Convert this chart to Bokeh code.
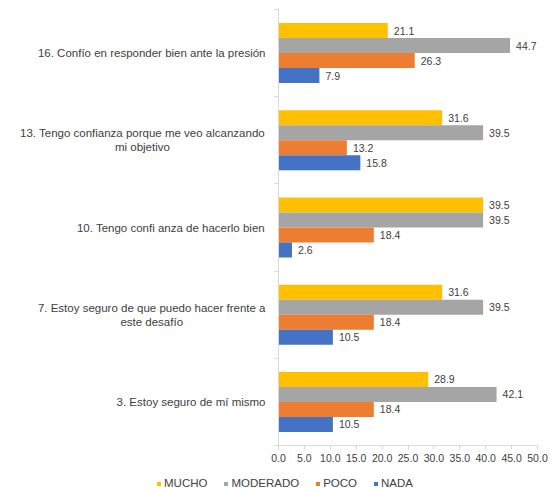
import numpy as np
from bokeh.plotting import figure
from bokeh.layouts import row, column
from bokeh.models import (ColumnDataSource, FixedTicker, NumeralTickFormatter, Legend,
                          LegendItem, Range1d)
from bokeh.transform import dodge
from bokeh.embed import file_html
from bokeh.resources import INLINE

categories = [
    "3. Estoy seguro de mí mismo",
    "7. Estoy seguro de que puedo hacer frente a\neste desafío",
    "10. Tengo confi anza de hacerlo bien",
    "13. Tengo confianza porque me veo alcanzando\nmi objetivo",
    "16. Confío en responder bien ante la presión",
]
series_names = ["MUCHO", "MODERADO", "POCO", "NADA"]
mucho = [28.9, 31.6, 39.5, 31.6, 21.1]
moderado = [42.1, 39.5, 39.5, 39.5, 44.7]
poco = [18.4, 18.4, 18.4, 13.2, 26.3]
nada = [10.5, 10.5, 2.6, 15.8, 7.9]
x_ticks = [0, 5, 10, 15, 20, 25, 30, 35, 40, 45, 50]

colors = ["#FFC000", "#A5A5A5", "#ED7D31", "#4472C4"]
FONT = "Liberation Sans"
TXT = "#404040"
CAT_FS = 11.5

# Liberation Sans (Arial-metric) advance widths, per 1000 em, used to centre wrapped lines
_W = dict(a=556, b=556, c=500, d=556, e=556, f=278, g=556, h=556, i=222, j=222, k=500,
          l=222, m=833, n=556, o=556, p=556, q=556, r=333, s=500, t=278, u=556, v=500,
          w=722, x=500, y=500, z=500, C=722, E=667, T=611)
_W.update({".": 278, " ": 278, "í": 278, "ó": 556})
for dch in "0123456789":
    _W[dch] = 556


def text_width(s, fs):
    return max(sum(_W.get(ch, 556) for ch in line) for line in s.split("\n")) / 1000 * fs


n = len(categories)
ypos = np.arange(n) + 0.5

FRAME_H = 436
TOP = 9
BOTTOM = 30
LABEL_W = 270
LABEL_RIGHT = 265
MAIN_W = 8 + 259 + 16

y_range = Range1d(0, n)

# ---- main bar chart ----
p = figure(
    frame_width=259, frame_height=FRAME_H,
    x_range=Range1d(0, 50), y_range=y_range,
    output_backend="svg", toolbar_location=None,
    min_border_left=8, min_border_top=TOP, min_border_right=16, min_border_bottom=BOTTOM,
)
p.outline_line_color = None
p.xgrid.visible = False
p.ygrid.visible = False

bar_h = 0.172
offsets = [0.258, 0.086, -0.086, -0.258]
data = {"y": ypos}
for name, vals in zip(series_names, [mucho, moderado, poco, nada]):
    data[name] = vals
    data[name + "_lbl"] = ["%.1f" % v for v in vals]
src = ColumnDataSource(data)

for name, col, off in zip(series_names, colors, offsets):
    p.hbar(y=dodge("y", off, range=p.y_range), right=name, left=0, height=bar_h,
           source=src, fill_color=col, line_color=None)
    p.text(x=name, y=dodge("y", off, range=p.y_range), text=name + "_lbl", source=src,
           x_offset=6, text_align="left", text_baseline="middle",
           text_font_size="10.5px", text_color=TXT, text_font={"value": FONT})

ya = p.yaxis[0]
ya.ticker = FixedTicker(ticks=[], minor_ticks=list(range(n + 1)))
ya.major_tick_out = 0
ya.major_tick_in = 0
ya.minor_tick_out = 4
ya.minor_tick_in = 0
ya.minor_tick_line_color = "#D9D9D9"
ya.axis_line_color = "#D9D9D9"
ya.major_label_standoff = 0
ya.major_label_text_font_size = "0px"

xa = p.xaxis[0]
xa.ticker = FixedTicker(ticks=x_ticks, minor_ticks=[])
xa.formatter = NumeralTickFormatter(format="0.0")
xa.major_tick_out = 4
xa.major_tick_in = 0
xa.major_tick_line_color = "#D9D9D9"
xa.axis_line_color = "#D9D9D9"
xa.major_label_standoff = 4
xa.major_label_text_font = FONT
xa.major_label_text_font_size = "10.5px"
xa.major_label_text_color = TXT

# ---- category labels panel (shares the y range) ----
lf = figure(
    width=LABEL_W, frame_height=FRAME_H,
    x_range=Range1d(0, LABEL_W), y_range=y_range,
    output_backend="svg", toolbar_location=None,
    x_axis_location=None, y_axis_location=None,
    min_border_left=0, min_border_right=0, min_border_top=TOP, min_border_bottom=BOTTOM,
)
lf.outline_line_color = None
lf.xgrid.visible = False
lf.ygrid.visible = False
lab_src = ColumnDataSource(dict(
    y=ypos, text=categories,
    x=[LABEL_RIGHT - text_width(c, CAT_FS) / 2 for c in categories],
))
lf.text(x="x", y="y", text="text", source=lab_src, text_align="center",
        text_baseline="middle", text_font_size="%spx" % CAT_FS, text_color=TXT,
        text_font={"value": FONT}, text_line_height=1.15)

# ---- legend strip ----
gf = figure(
    width=LABEL_W + MAIN_W, height=14,
    x_range=Range1d(-2, -1), y_range=Range1d(-2, -1),
    output_backend="svg", toolbar_location=None,
    x_axis_location=None, y_axis_location=None,
    min_border=0,
)
gf.outline_line_color = None
gf.xgrid.visible = False
gf.ygrid.visible = False
items = []
for name, col in zip(series_names, colors):
    r = gf.hbar(y="y", right=name, left=0, height=bar_h, source=src,
                fill_color=col, line_color=None)
    items.append(LegendItem(label=name, renderers=[r]))
legend = Legend(items=items, orientation="horizontal", location=(156, 0),
                glyph_width=5, glyph_height=5, label_standoff=3, spacing=16,
                padding=1, margin=0, border_line_color=None, background_fill_alpha=0,
                label_text_font=FONT, label_text_font_size="11.5px", label_text_color=TXT,
                label_height=12)
gf.add_layout(legend, "center")

layout = column(row(lf, p), gf)
open("out.html", "w").write(file_html(layout, INLINE))
